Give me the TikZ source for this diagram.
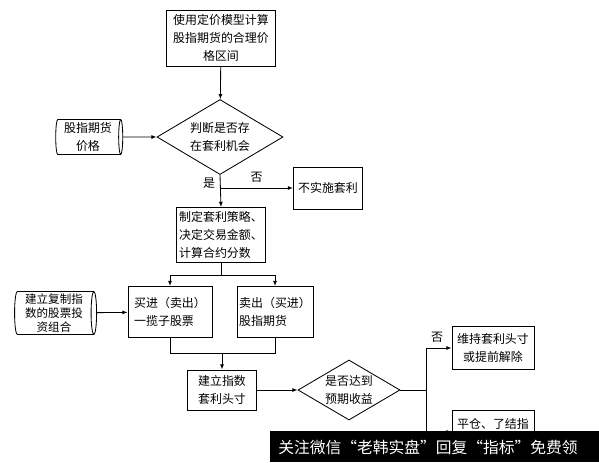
\documentclass[tikz,border=0pt]{standalone}
\usepackage{fontspec}
\newfontfamily\cjk{Noto Sans CJK SC}
\usetikzlibrary{arrows.meta,shapes.geometric}

\begin{document}
\begin{tikzpicture}[
    x=0.025cm, y=-0.025cm,
    font=\cjk\fontsize{8.5}{12.8}\selectfont,
    line width=0.6pt,
    box/.style={rectangle, draw=black, align=center, inner sep=1pt, fill=white},
    decision/.style={diamond, draw=black, align=center, inner sep=0pt, aspect=1.7},
    drum/.style={cylinder, draw=black, align=center, inner sep=0pt, shape aspect=0.14},
    flow/.style={-{Latex[length=1.3mm,width=1mm]}},
    link/.style={-}
]
    \useasboundingbox (0,0) rectangle (599,462);

    % --- PRICING & DECISION ---
    \node[box, minimum width=2.725cm, minimum height=1.4cm] (Pricing) at (221,38) {使用定价模型计算\\股指期货的合理价\\格区间};
    \node[decision, minimum width=3.15cm, minimum height=1.875cm] (Chance) at (220,137) {判断是否存\\在套利机会};
    \node[drum, minimum height=1.675cm, minimum width=0.875cm] (FuturesPrice) at (88,137) {股指期货\\价格};
    \node[box, minimum width=1.725cm, minimum height=1.05cm] (NoArb) at (328,188) {不实施套利};

    % --- STRATEGY & TRADES ---
    \node[box, align=left, minimum width=2.225cm, minimum height=1.375cm] (Strategy) at (221,235) {制定套利策略、\\决定交易金额、\\计算合约分数};
    \node[box, align=left, minimum width=2.1cm, minimum height=1.275cm] (BuyStocks) at (170,312) {买进（卖出）\\一揽子股票};
    \node[box, align=left, minimum width=1.9cm, minimum height=1.275cm] (SellFutures) at (275,312) {卖出（买进）\\股指期货};
    \node[drum, minimum height=2.05cm, minimum width=1.075cm, font=\cjk\fontsize{8.2}{10.2}\selectfont] (Portfolio) at (54,313) {建立复制指\\数的股票投\\资组合};

    % --- POSITION & EXIT ---
    \node[box, minimum width=1.725cm, minimum height=1.0cm] (Position) at (222,390) {建立指数\\套利头寸};
    \node[decision, minimum width=2.55cm, minimum height=1.5cm] (Target) at (349,390) {是否达到\\预期收益};
    \node[box, minimum width=2.05cm, minimum height=1.075cm] (Keep) at (493,348) {维持套利头寸\\或提前解除};
    \node[box, minimum width=2.05cm, minimum height=1.1cm] (Close) at (493,432) {平仓、了结指\\~};

    % ================= DRAWING CONNECTORS =================
    \draw[flow] (Pricing) -- (Chance);
    \draw[flow] (FuturesPrice) -- (Chance);
    \coordinate (YesHub) at (220,188);
    \draw[flow] (Chance.south) -- node[pos=0.25, left] {是} (Strategy.north);
    \draw[flow] (YesHub) -- node[above] {否} (NoArb.west);

    \coordinate (SplitHub) at (221,275);
    \draw[link] (Strategy.south) -- (SplitHub);
    \draw[flow] (SplitHub) -| (BuyStocks.north);
    \draw[flow] (SplitHub) -| (SellFutures.north);
    \draw[flow] (Portfolio) -- (BuyStocks);

    \coordinate (MergeHub) at (222,353);
    \draw[link] (BuyStocks.south) |- (MergeHub);
    \draw[link] (SellFutures.south) |- (MergeHub);
    \draw[flow] (MergeHub) -- (Position.north);
    \draw[flow] (Position) -- (Target);

    \coordinate (ExitHub) at (426,390);
    \draw[link] (Target.east) -- (ExitHub);
    \draw[flow] (ExitHub) |- node[pos=0.5, above right] {否} (Keep.west);
    \draw[flow] (ExitHub) |- (Close.west);

    % watermark strip
    \fill[black] (270,431) rectangle (599,462);
    \node[anchor=west, text=white, inner sep=0pt, font=\cjk\fontsize{11.2}{12}\selectfont] (Banner) at (278,447) {关注微信“老韩实盘”回复“指标”免费领};
\end{tikzpicture}
\end{document}
